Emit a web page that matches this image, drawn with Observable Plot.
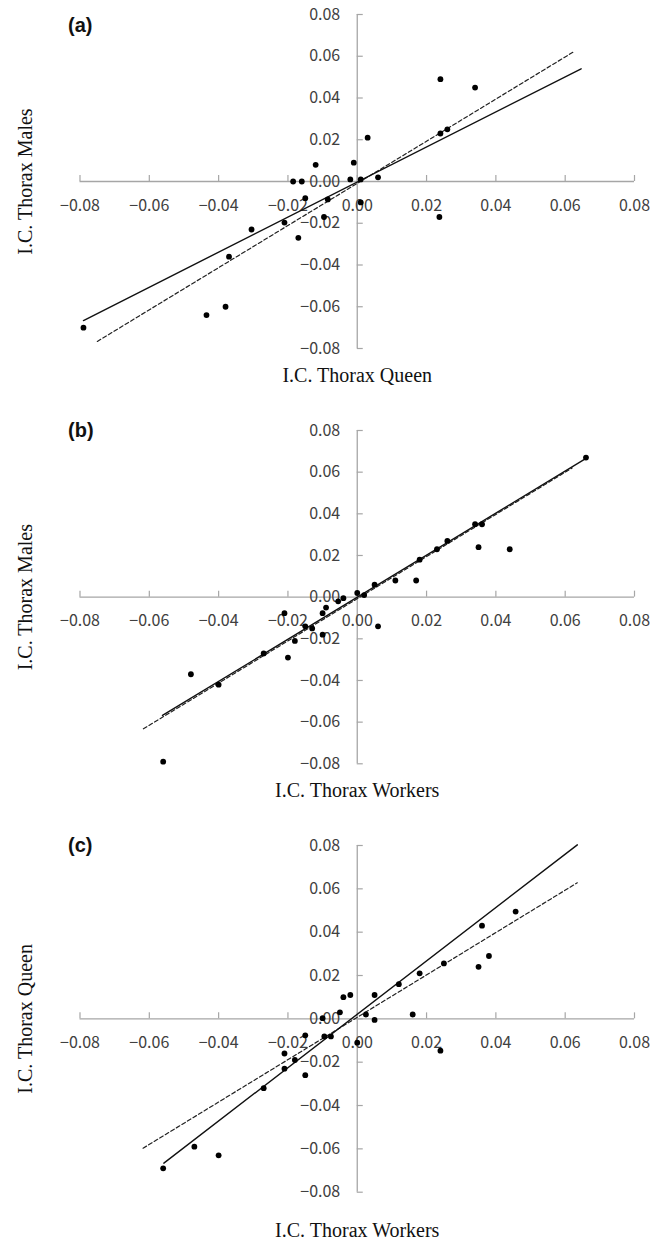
<!DOCTYPE html>
<html><head><meta charset="utf-8">
<script src="https://cdn.jsdelivr.net/npm/d3@7"></script>
<script src="https://cdn.jsdelivr.net/npm/@observablehq/plot@0.6"></script>
<style>
body{margin:0;background:#fff}
#chart{width:659px}
#chart svg{display:block}
</style>
</head><body><div id="chart"></div>
<script>
// tick values (both axes)
const xTicks = [-0.08, -0.06, -0.04, -0.02, 0.00, 0.02, 0.04, 0.06, 0.08];
const yTicks = [-0.08, -0.06, -0.04, -0.02, 0.00, 0.02, 0.04, 0.06, 0.08];

// (a) queen vs males
const queenA = [0.024, 0.034, 0.024, 0.026, 0.003, -0.001, -0.012, -0.002, 0.001, 0.006, -0.0185, -0.016, -0.015, -0.0085, -0.0096, 0.001, -0.021, -0.0305, -0.017, -0.037, -0.038, -0.0435, -0.079, 0.0237];
const malesA = [0.049, 0.045, 0.023, 0.025, 0.021, 0.009, 0.008, 0.001, 0.001, 0.002, 0.000, 0.000, -0.008, -0.0086, -0.017, -0.010, -0.0197, -0.023, -0.027, -0.036, -0.060, -0.064, -0.070, -0.017];
const fitAx = [-0.079, 0.0646], fitAy = [-0.0666, 0.054];
const refAx = [-0.075, 0.0627], refAy = [-0.0766, 0.0624];

// (b) workers vs males
const workersB = [0.066, 0.034, 0.036, 0.035, 0.044, 0.026, 0.023, 0.018, 0.011, 0.017, 0.005, 0.000, 0.002, -0.004, -0.0055, -0.009, -0.010, -0.021, -0.015, -0.013, 0.006, -0.010, -0.018, -0.020, -0.027, -0.048, -0.040, -0.056];
const malesB = [0.067, 0.035, 0.035, 0.024, 0.023, 0.027, 0.023, 0.018, 0.008, 0.008, 0.006, 0.002, 0.001, -0.0005, -0.002, -0.005, -0.0077, -0.0077, -0.014, -0.015, -0.014, -0.018, -0.021, -0.029, -0.027, -0.037, -0.042, -0.079];
const fitBx = [-0.0562, 0.0659], fitBy = [-0.0568, 0.0665];
const refBx = [-0.0617, 0.062], refBy = [-0.0632, 0.062];

// (c) workers vs queen
const workersC = [0.0457, 0.036, 0.038, 0.035, 0.025, 0.018, 0.012, 0.005, -0.002, -0.004, -0.005, 0.0025, 0.016, 0.005, -0.010, -0.015, -0.0095, -0.0076, 0.000, 0.024, -0.021, -0.018, -0.021, -0.015, -0.027, -0.047, -0.040, -0.056];
const queenC = [0.0495, 0.043, 0.029, 0.024, 0.0256, 0.021, 0.016, 0.011, 0.011, 0.010, 0.003, 0.002, 0.002, -0.0005, 0.0003, -0.0076, -0.0081, -0.0081, -0.011, -0.0147, -0.016, -0.019, -0.023, -0.026, -0.032, -0.059, -0.063, -0.069];
const fitCx = [-0.0558, 0.0635], fitCy = [-0.0666, 0.0803];
const refCx = [-0.0618, 0.0635], refCy = [-0.0597, 0.0628];

const fmt = d3.format(".2f");
const AXIS = "#a6a6a6";
const TICKFONT = "'Noto Sans CJK KR', 'Noto Sans', sans-serif";
const SERIF = "'Liberation Serif', 'DejaVu Serif', serif";

function panel(o) {
  const pts = o.xs.map((x, i) => ({x, y: o.ys[i]}));
  const fit = o.fitX.map((x, i) => ({x, y: o.fitY[i]}));
  const ref = o.refX.map((x, i) => ({x, y: o.refY[i]}));
  return Plot.plot({
    width: 659, height: o.height,
    marginLeft: 79.5, marginRight: 25, marginTop: o.marginTop, marginBottom: o.marginBottom,
    x: {domain: [-0.08, 0.08], axis: null},
    y: {domain: [-0.08, 0.08], axis: null},
    style: {background: "white", overflow: "visible"},
    marks: [
      Plot.ruleY([0], {x1: () => -0.08, x2: () => 0.08, stroke: AXIS, strokeWidth: 1.3}),
      Plot.ruleX([0], {y1: () => -0.08, y2: () => 0.08, stroke: AXIS, strokeWidth: 1.3}),
      Plot.ruleX(xTicks, {x: d => d, y1: () => 0, y2: () => 0, insetBottom: 6, stroke: AXIS, strokeWidth: 1.2}),
      Plot.ruleY(yTicks, {y: d => d, x1: () => 0, x2: () => 0, insetLeft: 6, stroke: AXIS, strokeWidth: 1.2}),
      Plot.text(xTicks, {x: d => d, y: () => 0, dy: 24, text: d => fmt(d), fontSize: 16, fontFamily: TICKFONT, fill: "#404040"}),
      Plot.text(yTicks, {x: () => 0, y: d => d, dx: -17, textAnchor: "end", text: d => fmt(d), fontSize: 16, fontFamily: TICKFONT, fill: "#404040"}),
      Plot.line(ref, {x: "x", y: "y", stroke: "#222", strokeWidth: 1.2, strokeDasharray: "4,2.5"}),
      Plot.line(fit, {x: "x", y: "y", stroke: "#111", strokeWidth: 1.4}),
      Plot.dot(pts, {x: "x", y: "y", r: 2.9, fill: "#000", stroke: "none"}),
      Plot.text([o.letter], {frameAnchor: "top-left", dx: -12, dy: o.letterDy, textAnchor: "start", lineAnchor: "middle", fontSize: 20, fontWeight: "bold", fontFamily: "'Liberation Sans', Arial, sans-serif", fill: "#111"}),
      Plot.text([o.xTitle], {x: () => 0, y: () => -0.08, dy: o.xTitleDy, fontSize: 20, fontFamily: SERIF, fill: "#111"}),
      Plot.text([o.yTitle], {frameAnchor: "left", y: () => 0, dx: -54.5, rotate: -90, textAnchor: "middle", lineAnchor: "middle", fontSize: 20, fontFamily: SERIF, fill: "#111"})
    ]
  });
}

const chart = document.getElementById("chart");
chart.append(panel({xs: queenA, ys: malesA, fitX: fitAx, fitY: fitAy, refX: refAx, refY: refAy,
  letter: "(a)", xTitle: "I.C. Thorax Queen", yTitle: "I.C. Thorax Males",
  height: 400, marginTop: 14, marginBottom: 52, letterDy: 11, xTitleDy: 27}));
chart.append(panel({xs: workersB, ys: malesB, fitX: fitBx, fitY: fitBy, refX: refBx, refY: refBy,
  letter: "(b)", xTitle: "I.C. Thorax Workers", yTitle: "I.C. Thorax Males",
  height: 420, marginTop: 30, marginBottom: 56.7, letterDy: 0, xTitleDy: 27}));
chart.append(panel({xs: workersC, ys: queenC, fitX: fitCx, fitY: fitCy, refX: refCx, refY: refCy,
  letter: "(c)", xTitle: "I.C. Thorax Workers", yTitle: "I.C. Thorax Queen",
  height: 423, marginTop: 25, marginBottom: 51.3, letterDy: 0, xTitleDy: 38}));
</script>
</body></html>
